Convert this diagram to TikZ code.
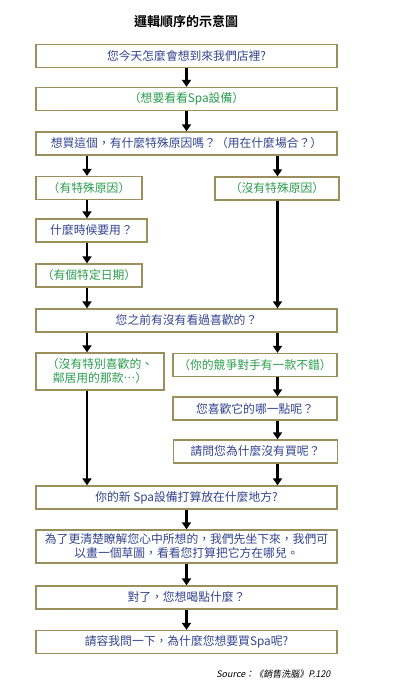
\documentclass[tikz,border=0pt]{standalone}
\usepackage{fontspec}
\setmainfont{Noto Sans CJK TC}[Script=CJK,Language=Chinese Traditional]
\newfontfamily\titlefont{Noto Sans CJK TC Bold}[Script=CJK,Language=Chinese Traditional]
\newfontfamily\srcfont{Noto Sans CJK TC}[FakeSlant=0.2,Script=CJK,Language=Chinese Traditional]
\usetikzlibrary{arrows.meta}
\definecolor{qtext}{HTML}{34448F}
\definecolor{atext}{HTML}{2A9D4E}
\definecolor{boxline}{HTML}{9C8F5E}
\begin{document}
\begin{tikzpicture}[x=1pt,y=-1pt,
    box/.style={draw=boxline,line width=1.3pt,fill=white,inner sep=0pt,
      minimum height=23pt,align=center,font=\fontsize{11.8}{14}\selectfont},
    qbox/.style={box,text=qtext},
    abox/.style={box,text=atext},
    wide/.style={minimum width=301pt},
    arr/.style={line width=2.6pt,-{Triangle[length=7pt,width=9pt]}}]
  \useasboundingbox[fill=white] (0,0) rectangle (405,700);
  \coordinate (lc) at (87,0);
  \coordinate (rc) at (277.5,0);
  \node[font=\titlefont\fontsize{13}{15}\selectfont] (title) at (186,22) {邏輯順序的示意圖};
  % upper part
  \node[qbox,wide] (q1) at (186.5,56) {您今天怎麼會想到來我們店裡?};
  \node[abox,wide] (a1) at (186.5,99) {（想要看看Spa設備）};
  \node[qbox,wide] (q2) at (186.5,143.5) {想買這個，有什麼特殊原因嗎？（用在什麼場合？）};
  \node[abox,minimum width=106pt] (a2l) at (89,188) {（有特殊原因）};
  \node[abox,minimum width=124pt] (a2r) at (277,188.5) {（沒有特殊原因）};
  \node[qbox,minimum width=111pt] (q3) at (91.5,230.5) {什麼時候要用？};
  \node[abox,minimum width=106pt] (a3) at (89,275.5) {（有個特定日期）};
  \node[qbox,wide] (q4) at (186.5,320.5) {您之前有沒有看過喜歡的？};
  % two branches
  \node[abox,minimum width=128pt,minimum height=37pt] (a4l) at (100,371.5)
    {（沒有特別喜歡的、\\鄰居用的那款…）};
  \node[abox,minimum width=164pt] (a4r) at (255,365) {（你的競爭對手有一款不錯）};
  \node[qbox,minimum width=164pt] (q5) at (255,408.5) {您喜歡它的哪一點呢？};
  \node[qbox,minimum width=164pt] (q6) at (255.5,451.5) {請問您為什麼沒有買呢？};
  % lower part
  \node[qbox,wide] (q7) at (186.5,497.5) {你的新 Spa設備打算放在什麼地方?};
  \node[qbox,wide,minimum height=33pt] (q8) at (186.5,546.5)
    {為了更清楚瞭解您心中所想的，我們先坐下來，我們可\\以畫一個草圖，看看您打算把它方在哪兒。};
  \node[qbox,wide] (q9) at (186.5,597.5) {對了，您想喝點什麼？};
  \node[qbox,wide] (q10) at (186.5,642) {請容我問一下，為什麼您想要買Spa呢?};
  \node[anchor=east,font=\srcfont\fontsize{9}{11}\selectfont] (src) at (334,674)
    {Source：《銷售洗腦》P.120};
  % arrows
  \draw[arr] (q1) -- (a1);
  \draw[arr] (a1) -- (q2);
  \draw[arr] (q2.south -| lc) -- (a2l.north -| lc);
  \draw[arr] (q2.south -| rc) -- (a2r.north -| rc);
  \draw[arr] (a2l.south -| lc) -- (q3.north -| lc);
  \draw[arr] (q3.south -| lc) -- (a3.north -| lc);
  \draw[arr] (a3.south -| lc) -- (q4.north -| lc);
  \draw[arr] (a2r.south -| rc) -- (q4.north -| rc);
  \draw[arr] (q4.south -| lc) -- (a4l.north -| lc);
  \draw[arr] (q4.south -| rc) -- (a4r.north -| rc);
  \draw[arr] (a4r.south -| rc) -- (q5.north -| rc);
  \draw[arr] (q5.south -| rc) -- (q6.north -| rc);
  \draw[arr] (a4l.south -| lc) -- (q7.north -| lc);
  \draw[arr] (q6.south -| rc) -- (q7.north -| rc);
  \draw[arr] (q7) -- (q8);
  \draw[arr] (q8) -- (q9);
  \draw[arr] (q9) -- (q10);
\end{tikzpicture}
\end{document}
